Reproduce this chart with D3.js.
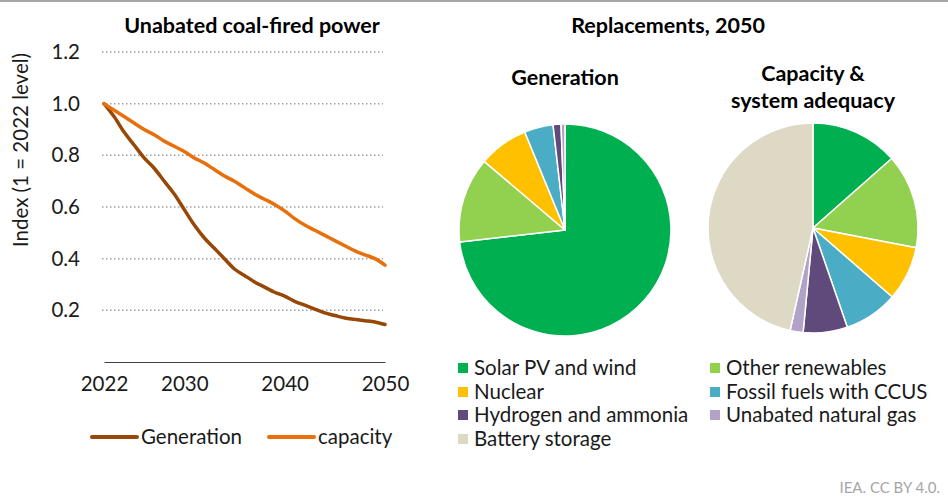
<!DOCTYPE html>
<html>
<head>
<meta charset="utf-8">
<script src="https://cdn.jsdelivr.net/npm/d3@7"></script>
<style>
  body { margin: 0; background: #fff; }
  svg { display: block; font-family: Lato, "Open Sans", sans-serif; }
</style>
</head>
<body>
<div id="chart"></div>
<script>
// line chart data (index, 1 = 2022 level)
var years = d3.range(2022, 2051);
var generation = [1.0, 0.95, 0.89, 0.84, 0.79, 0.75, 0.70, 0.65, 0.59, 0.53, 0.48, 0.44, 0.40, 0.36, 0.335,
  0.31, 0.29, 0.27, 0.255, 0.235, 0.22, 0.205, 0.19, 0.18, 0.17, 0.165, 0.16, 0.155, 0.145];
var capacity = [1.0, 0.975, 0.95, 0.925, 0.90, 0.88, 0.855, 0.835, 0.815, 0.79, 0.77, 0.745, 0.72, 0.70, 0.675,
  0.65, 0.63, 0.61, 0.585, 0.555, 0.53, 0.51, 0.49, 0.47, 0.45, 0.43, 0.415, 0.40, 0.375];
var yTicks = [0.2, 0.4, 0.6, 0.8, 1.0, 1.2];
var xTicks = [2022, 2030, 2040, 2050];

// pie data, shares in 2050 (%)
var sources = ["Solar PV and wind", "Other renewables", "Nuclear", "Fossil fuels with CCUS",
  "Hydrogen and ammonia", "Unabated natural gas", "Battery storage"];
var genShares = [73.2, 13.0, 7.6, 4.4, 1.2, 0.6, 0];
var capShares = [13.5, 14.5, 8.4, 8.3, 6.8, 2.0, 46.5];
var colors = ["#00b050", "#92d050", "#ffc000", "#4bacc6", "#604a7b", "#b3a2c7", "#ddd9c4"];

var svgWidth = 948, svgHeight = 500;
var fs = 20.5;

var svg = d3.select("#chart")
  .append("svg")
  .attr("width", svgWidth)
  .attr("height", svgHeight);

// top rule
svg.append("rect")
  .attr("x", 0).attr("y", 0)
  .attr("width", svgWidth).attr("height", 2)
  .attr("fill", "#a6a6a6");

// ---------- Line chart ----------
var x = d3.scaleLinear().domain([2022, 2050]).range([104, 385]);
var y = d3.scaleLinear().domain([0, 1.2]).range([362, 52]);

svg.append("text")
  .attr("x", 252).attr("y", 33)
  .attr("text-anchor", "middle")
  .attr("font-weight", "bold")
  .attr("font-size", 21.5)
  .text("Unabated coal-fired power");

// gridlines
svg.append("g")
  .selectAll("line")
  .data(yTicks)
  .enter()
  .append("line")
  .attr("x1", 102).attr("x2", 383)
  .attr("y1", d => y(d)).attr("y2", d => y(d))
  .attr("stroke", "#a0a0a0")
  .attr("stroke-width", 1.5)
  .attr("stroke-dasharray", "1.5,2.5");

// y tick labels
svg.append("g")
  .selectAll("text")
  .data(yTicks)
  .enter()
  .append("text")
  .attr("x", 80)
  .attr("y", d => y(d) + 7)
  .attr("text-anchor", "end")
  .attr("font-size", fs)
  .attr("fill", "#1a1a1a")
  .text(d => d.toFixed(1));

// x axis
var bottomAxis = d3.axisBottom(x).tickValues(xTicks).tickFormat(d3.format("d")).tickSize(0).tickPadding(14);
var xAxis = svg.append("g")
  .attr("transform", `translate(0, ${y(0)})`)
  .call(bottomAxis);
xAxis.select(".domain").attr("stroke", "#404040").attr("stroke-width", 1.2);
xAxis.selectAll("text").attr("font-size", fs).attr("font-family", "Lato, sans-serif").attr("fill", "#1a1a1a");

// axis title
svg.append("text")
  .attr("transform", "rotate(-90)")
  .attr("x", -150).attr("y", 28)
  .attr("text-anchor", "middle")
  .attr("font-size", fs)
  .attr("fill", "#1a1a1a")
  .text("Index (1 = 2022 level)");

var line = d3.line()
  .x((d, i) => x(years[i]))
  .y(d => y(d))
  .curve(d3.curveMonotoneX);

var seriesList = [
  { name: "Generation", values: generation, color: "#974706" },
  { name: "capacity", values: capacity, color: "#e8700c" }
];

svg.append("g")
  .selectAll("path")
  .data(seriesList)
  .enter()
  .append("path")
  .attr("d", d => line(d.values))
  .attr("fill", "none")
  .attr("stroke", d => d.color)
  .attr("stroke-width", 3.5)
  .attr("stroke-linejoin", "round")
  .attr("stroke-linecap", "round");

// line legend
var lineLegend = svg.append("g")
  .selectAll("g")
  .data(seriesList)
  .enter()
  .append("g")
  .attr("transform", (d, i) => `translate(${i === 0 ? 92 : 269}, 437)`);
lineLegend.append("line")
  .attr("x1", 0).attr("x2", 45)
  .attr("stroke", d => d.color)
  .attr("stroke-width", 4)
  .attr("stroke-linecap", "round");
lineLegend.append("text")
  .attr("x", 49).attr("y", 7)
  .attr("font-size", fs)
  .attr("fill", "#1a1a1a")
  .text(d => d.name);

// ---------- Pies ----------
svg.append("text")
  .attr("x", 668).attr("y", 33)
  .attr("text-anchor", "middle")
  .attr("font-weight", "bold")
  .attr("font-size", 21.5)
  .text("Replacements, 2050");

var pie = d3.pie().sort(null).value(d => d);
var arc = d3.arc().innerRadius(0);

var pies = [
  { title: ["Generation"], titleY: 85, cx: 565, cy: 230, r: 106, values: genShares },
  { title: ["Capacity &", "system adequacy"], titleY: 81, cx: 813, cy: 228, r: 105, values: capShares }
];

pies.forEach(function(p) {
  var g = svg.append("g").attr("transform", `translate(${p.cx}, ${p.cy})`);
  g.selectAll("path")
    .data(pie(p.values).map((a, i) => Object.assign(a, { color: colors[i] })).filter(a => a.value > 0))
    .enter()
    .append("path")
    .attr("d", d => arc.outerRadius(p.r)(d))
    .attr("fill", d => d.color)
    .attr("stroke", "#fff")
    .attr("stroke-width", 1.5)
    .attr("stroke-linejoin", "round");

  svg.append("g")
    .selectAll("text")
    .data(p.title)
    .enter()
    .append("text")
    .attr("x", p.cx)
    .attr("y", (d, i) => p.titleY + i * 27)
    .attr("text-anchor", "middle")
    .attr("font-weight", "bold")
    .attr("font-size", 21.5)
    .text(d => d);
});

// pie legend
var legendRows = [368, 392, 415, 439];
var legend = svg.append("g")
  .selectAll("g")
  .data(sources)
  .enter()
  .append("g")
  .attr("transform", (d, i) => `translate(${i % 2 === 0 ? 458 : 710}, ${legendRows[Math.floor(i / 2)]})`);
legend.append("rect")
  .attr("x", 0).attr("y", -5)
  .attr("width", 10).attr("height", 10)
  .attr("fill", (d, i) => colors[i]);
legend.append("text")
  .attr("x", 16).attr("y", 7)
  .attr("font-size", fs)
  .attr("fill", "#1a1a1a")
  .text(d => d);

// source note
svg.append("text")
  .attr("x", 940).attr("y", 493)
  .attr("text-anchor", "end")
  .attr("font-size", 15)
  .attr("fill", "#a6a6a6")
  .text("IEA. CC BY 4.0.");
</script>
</body>
</html>
